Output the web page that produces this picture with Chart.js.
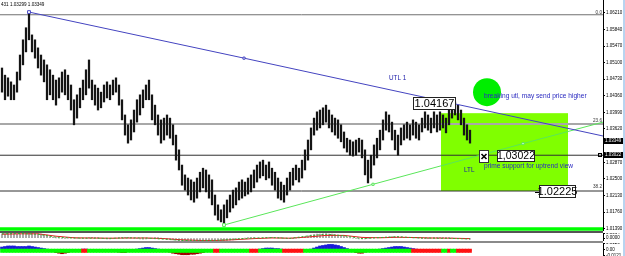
<!DOCTYPE html>
<html>
<head>
<meta charset="utf-8">
<script src="https://cdn.jsdelivr.net/npm/chart.js@4.4.1/dist/chart.umd.min.js"></script>
<style>
  body { margin: 0; background: #fff; width: 625px; height: 256px; overflow: hidden; position: relative; }
  canvas { position: absolute; left: 0; }
  .sep { position: absolute; left: 0; width: 603px; }
</style>
</head>
<body>
<canvas id="main" width="625" height="231" style="top:0"></canvas>
<div class="sep" style="top:231px;height:2px;background:#555"></div>
<canvas id="osma" width="625" height="8" style="top:233px"></canvas>
<div class="sep" style="top:241px;height:2px;background:#8a8a8a"></div>
<canvas id="trend" width="625" height="13" style="top:243px"></canvas>
<div style="position:absolute;left:623px;top:0;width:2px;height:256px;background:#b8d4f0"></div>
<script>
// price bars, one per slot (high / low)
const barHigh = [
  1.0498,1.0482,1.0476,1.0467,1.0460,1.0489,1.0527,1.0561,1.0588,1.0623,
  1.0572,1.0561,1.0543,1.0527,1.0516,1.0505,1.0494,1.0482,1.0471,1.0476,
  1.0489,1.0494,1.0482,1.0460,1.0427,1.0438,1.0453,1.0471,1.0494,1.0516,
  1.0471,1.0460,1.0453,1.0444,1.0460,1.0467,1.0460,1.0471,1.0476,1.0460,
  1.0427,1.0393,1.0371,1.0382,1.0404,1.0427,1.0438,1.0449,1.0460,1.0471,
  1.0438,1.0415,1.0393,1.0382,1.0386,1.0393,1.0386,1.0371,1.0348,1.0315,
  1.0281,1.0259,1.0252,1.0248,1.0243,1.0252,1.0265,1.0274,1.0270,1.0259,
  1.0248,1.0214,1.0192,1.0181,1.0192,1.0203,1.0214,1.0225,1.0230,1.0243,
  1.0248,1.0243,1.0252,1.0259,1.0270,1.0281,1.0288,1.0292,1.0281,1.0288,
  1.0274,1.0265,1.0252,1.0243,1.0236,1.0252,1.0265,1.0274,1.0281,1.0274,
  1.0292,1.0315,1.0337,1.0364,1.0386,1.0400,1.0404,1.0409,1.0415,1.0404,
  1.0393,1.0386,1.0382,1.0371,1.0355,1.0341,1.0337,1.0333,1.0337,1.0341,
  1.0337,1.0315,1.0292,1.0303,1.0326,1.0341,1.0359,1.0382,1.0400,1.0393,
  1.0377,1.0359,1.0348,1.0364,1.0371,1.0377,1.0371,1.0382,1.0377,1.0371,
  1.0386,1.0400,1.0393,1.0386,1.0400,1.0393,1.0400,1.0393,1.0386,1.0404,
  1.0420,1.0422,1.0415,1.0404,1.0386,1.0371,1.0359
];
const barLow = [
  1.0444,1.0427,1.0435,1.0427,1.0427,1.0444,1.0471,1.0505,1.0534,1.0561,
  1.0534,1.0520,1.0498,1.0482,1.0467,1.0427,1.0438,1.0427,1.0415,1.0431,
  1.0444,1.0438,1.0427,1.0404,1.0371,1.0386,1.0409,1.0427,1.0438,1.0453,
  1.0427,1.0415,1.0404,1.0409,1.0422,1.0431,1.0427,1.0438,1.0444,1.0415,
  1.0382,1.0348,1.0330,1.0337,1.0355,1.0377,1.0393,1.0409,1.0427,1.0427,
  1.0382,1.0371,1.0348,1.0330,1.0337,1.0348,1.0341,1.0326,1.0292,1.0270,
  1.0236,1.0225,1.0214,1.0203,1.0198,1.0207,1.0221,1.0230,1.0221,1.0207,
  1.0192,1.0169,1.0158,1.0154,1.0151,1.0163,1.0176,1.0185,1.0192,1.0203,
  1.0207,1.0212,1.0216,1.0221,1.0230,1.0243,1.0252,1.0257,1.0248,1.0252,
  1.0236,1.0225,1.0207,1.0203,1.0198,1.0214,1.0225,1.0236,1.0248,1.0243,
  1.0252,1.0270,1.0292,1.0315,1.0348,1.0359,1.0364,1.0371,1.0377,1.0364,
  1.0355,1.0348,1.0341,1.0333,1.0319,1.0310,1.0303,1.0301,1.0303,1.0310,
  1.0297,1.0259,1.0241,1.0252,1.0281,1.0297,1.0315,1.0337,1.0359,1.0355,
  1.0337,1.0315,1.0303,1.0326,1.0337,1.0341,1.0337,1.0348,1.0341,1.0337,
  1.0355,1.0364,1.0359,1.0353,1.0364,1.0355,1.0359,1.0364,1.0353,1.0371,
  1.0386,1.0393,1.0382,1.0371,1.0348,1.0337,1.0330
];

const priceTicks = [1.0621, 1.0584, 1.0547, 1.0510, 1.0473, 1.0436, 1.0399, 1.0362,
                    1.0287, 1.0250, 1.0213, 1.0176, 1.0139];
const bidPrice = 1.03349;

// horizontal levels: fib 0.0, fib 23.6, line, fib 38.2, support
const levelPrices = [1.0617, 1.0373, 1.0303, 1.0223, 1.0138];
const levelColors = ['#707070', '#a8a8a8', '#303030', '#303030', '#00ff00'];
const levelWidths = [1, 2, 1, 1, 3.5];

// trend lines (slot, price)
const utlSlots = [9, 80.67, 200.33];
const utlPrices = [1.0623, 1.0520, 1.0346];
const ltlSlots = [74, 123.67, 173.67, 200.33];
const ltlPrices = [1.0147, 1.0238, 1.0329, 1.0377];

const zoneBox = { from: 146.33, to: 188.67, top: 1.0397, bottom: 1.0223 };
const signalDot = { at: 161.67, price: 1.0444, r: 14 };

// osma window (points)
const osmaHist = [
  55,58,60,60,58,55,55,58,62,64,60,58,55,50,45,40,
  20,10,5,0,-5,-5,0,5,5,0,-5,-5,0,5,10,8,5,0,-5,-8,-10,-5,0,5,10,12,10,5,0,-5,-10,-12,-10,-5,0,5,5,0,-5,-10,-15,
  -20,-25,-30,-32,-35,-35,-33,-30,-30,-32,-35,-33,-30,-28,-25,-25,-28,-30,-28,-25,-20,-15,-10,-5,
  0,5,5,3,0,-3,0,5,8,10,8,5,3,0,-3,-5,-3,0,5,10,20,30,
  40,45,50,52,55,55,52,50,45,40,35,25,15,
  5,0,-5,-10,-10,-8,-5,0,5,8,10,12,
  15,18,20,20,18,15,12,10,8,5,
  3,0,-2,-3,-2,0,2,3,5,5,3,2,0,-2,-3,-5,-8,-10,-12
];
const lineSlots = [0,6,12,18,24,30,36,42,48,54,60,66,72,78,84,90,96,102,108,114,120,126,132,138,144,150,156];
const slowLine = [50,55,55,25,5,2,0,2,3,-5,-20,-28,-28,-18,-5,3,0,15,35,35,10,5,12,8,2,0,-5];
const fastLine = [55,58,50,12,2,0,-2,4,2,-12,-28,-32,-26,-10,2,8,-2,28,50,30,-5,8,18,5,0,-3,-10];

// trend window (0.001 units)
const trendHist = [
  5,6,7,7,7,6,6,6,6,7,6,5,4,3,2,1,
  -2,-4,-6,-7,-8,-7,-6,-3,-1,
  0,0,1,1,0,0,-1,-1,0,0,0,0,
  -1,-3,-5,-6,-6,-4,-2,0,
  1,2,3,4,4,3,2,1,0,
  -1,-3,-5,-7,-8,-9,-10,-10,-10,-9,-9,-8,-7,-6,-4,-3,-2,-1,
  0,0,0,0,0,0,0,0,0,0,0,0,0,0,
  1,2,3,3,3,2,2,1,
  0,0,-1,-1,0,0,0,0,0,1,
  3,5,7,8,9,10,10,9,8,6,4,2,
  -2,-4,-6,-7,-7,-5,-3,-1,
  0,0,1,2,
  3,4,5,6,6,6,5,4,3,2,
  1,0,0,-1,-1,-1,0,0,0,0,0,0,0,0,-1,-1,-1,-1,-1
];
const bandRuns = [[0,26,'up'],[27,28,'down'],[29,70,'up'],[71,72,'down'],[73,82,'up'],[83,85,'down'],
  [86,93,'up'],[94,100,'down'],[101,136,'up'],[137,146,'down'],[147,148,'up'],[149,149,'down'],
  [150,151,'up'],[152,156,'down']];

const xMin = -0.667, xMax = 200.333;
const FONT = '"Liberation Sans", Arial, sans-serif';

function axisOptions(min, max, ticks, fmt) {
  return {
    position: 'right', min: min, max: max,
    afterBuildTicks: s => { s.ticks = ticks.map(v => ({ value: v })); },
    afterFit: s => { s.width = 22; s.paddingTop = 0; s.paddingBottom = 0; },
    ticks: { autoSkip: false, padding: 1, color: '#000', font: { family: FONT, size: 4.5 }, callback: fmt },
    grid: { drawOnChartArea: false, tickLength: 2, color: '#000' },
    border: { color: '#000' }
  };
}

function baseOptions(yAxis) {
  return {
    responsive: false, animation: false, events: [],
    layout: { padding: 0, autoPadding: false },
    plugins: { legend: { display: false }, tooltip: { enabled: false } },
    scales: {
      x: { type: 'linear', min: xMin, max: xMax, offset: false, display: false, grid: { offset: false } },
      y: yAxis
    }
  };
}

function hline(p, i) {
  return { type: 'line', data: [{ x: xMin, y: p }, { x: xMax, y: p }], borderColor: levelColors[i],
           borderWidth: levelWidths[i], pointRadius: 0, order: 3 };
}

function boxLabel(ctx, text, x, y, w, h, size) {
  ctx.fillStyle = '#fff';
  ctx.fillRect(x, y, w, h);
  ctx.strokeStyle = '#222';
  ctx.lineWidth = 1;
  ctx.strokeRect(x + 0.5, y + 0.5, w - 1, h - 1);
  ctx.fillStyle = '#000';
  ctx.font = size + 'px ' + FONT;
  ctx.textAlign = 'center';
  ctx.textBaseline = 'middle';
  ctx.fillText(text, x + w / 2, y + h / 2 + 0.5);
}

const notes = [
  { text: '431 1.03299 1.03349', x: 1, y: 5, size: 4.6, color: '#000' },
  { text: 'UTL 1', x: 389, y: 78, size: 6.3, color: '#1a1aa8' },
  { text: 'breaking utl, may send price higher', x: 484, y: 96, size: 6.6, color: '#2a2ac0' },
  { text: 'LTL', x: 464, y: 170, size: 6.3, color: '#1a1aa8' },
  { text: 'prime support for uptrend view', x: 484, y: 166, size: 6.6, color: '#2a2ac0' }
];
const fibTags = [['0.0', 13], ['23.6', 121], ['38.2', 187]];

const drawings = {
  id: 'drawings',
  beforeDatasetsDraw(chart) {
    const { ctx, scales: { x, y } } = chart;
    ctx.save();
    const l = x.getPixelForValue(zoneBox.from), r = x.getPixelForValue(zoneBox.to);
    const t = y.getPixelForValue(zoneBox.top), b = y.getPixelForValue(zoneBox.bottom);
    ctx.fillStyle = '#80ff00';
    ctx.fillRect(l, t, r - l, b - t);
    ctx.fillStyle = '#00ee00';
    ctx.beginPath();
    ctx.arc(x.getPixelForValue(signalDot.at), y.getPixelForValue(signalDot.price), signalDot.r, 0, Math.PI * 2);
    ctx.fill();
    ctx.restore();
  },
  afterDraw(chart) {
    const { ctx, scales: { y } } = chart;
    ctx.save();
    ctx.textBaseline = 'middle';
    ctx.textAlign = 'left';
    notes.forEach(n => {
      ctx.fillStyle = n.color;
      ctx.font = n.size + 'px ' + FONT;
      ctx.fillText(n.text, n.x, n.y);
    });
    ctx.fillStyle = '#333';
    ctx.font = '4.6px ' + FONT;
    ctx.textAlign = 'right';
    fibTags.forEach(f => ctx.fillText(f[0], 602, f[1]));

    boxLabel(ctx, '1.04167', 413, 97, 43, 13, 11);
    boxLabel(ctx, '1,03022', 497, 150, 38, 12, 10.5);
    boxLabel(ctx, '1.02225', 539, 185, 37, 13, 11);
    ctx.strokeStyle = '#000';
    ctx.beginPath();
    ctx.moveTo(535, 192.5); ctx.lineTo(539, 192.5);
    ctx.stroke();
    // close icon
    ctx.fillStyle = '#fff';
    ctx.fillRect(479, 150, 10, 13);
    ctx.strokeStyle = '#333';
    ctx.strokeRect(479.5, 150.5, 9, 12);
    ctx.strokeStyle = '#000';
    ctx.lineWidth = 1.6;
    ctx.beginPath();
    ctx.moveTo(481.5, 154); ctx.lineTo(486.5, 159);
    ctx.moveTo(486.5, 154); ctx.lineTo(481.5, 159);
    ctx.stroke();

    // axis tags
    ctx.lineWidth = 1;
    ctx.textAlign = 'left';
    ctx.font = '4.5px ' + FONT;
    [[bidPrice, '1.03349'], [levelPrices[2], '1.03022']].forEach(([p, t]) => {
      const py = Math.round(y.getPixelForValue(p));
      ctx.fillStyle = '#000';
      ctx.fillRect(604, py - 3, 19, 6);
      ctx.fillStyle = '#fff';
      ctx.fillText(t, 605, py);
    });
    const ly = Math.round(y.getPixelForValue(levelPrices[2]));
    ctx.strokeStyle = '#000';
    ctx.strokeRect(598.5, ly - 1.5, 3, 3);
    ctx.restore();
  }
};

new Chart(document.getElementById('main'), {
  type: 'bar',
  data: {
    datasets: [
      { type: 'bar', data: barHigh.map((h, i) => ({ x: i, y: [barLow[i], h] })), backgroundColor: '#151515',
        barThickness: 1.6, grouped: false, order: 2 },
      ...levelPrices.map(hline),
      { type: 'line', data: utlSlots.map((s, i) => ({ x: s, y: utlPrices[i] })), borderColor: '#4444c0',
        borderWidth: 1, pointStyle: 'rect', pointRadius: [2, 1.5, 0], pointBackgroundColor: '#fff',
        pointBorderColor: '#4444c0', pointBorderWidth: 1, order: 1 },
      { type: 'line', data: ltlSlots.map((s, i) => ({ x: s, y: ltlPrices[i] })), borderColor: '#5ae65a',
        borderWidth: 1, pointStyle: 'rect', pointRadius: [2, 1.5, 1.5, 0], pointBackgroundColor: '#fff',
        pointBorderColor: '#5ae65a', pointBorderWidth: 1, order: 1 }
    ]
  },
  options: baseOptions(axisOptions(1.01336, 1.0650, priceTicks, v => v.toFixed(5))),
  plugins: [drawings]
});

new Chart(document.getElementById('osma'), {
  type: 'bar',
  data: {
    datasets: [
      { type: 'bar', data: osmaHist.map((v, i) => ({ x: i, y: v })), backgroundColor: '#9a9a9a',
        barThickness: 1, grouped: false, order: 3 },
      { type: 'line', data: lineSlots.map((s, i) => ({ x: s, y: slowLine[i] })), borderColor: '#e02020',
        borderWidth: 1, pointRadius: 0, order: 2 },
      { type: 'line', data: lineSlots.map((s, i) => ({ x: s, y: fastLine[i] })), borderColor: '#30b030',
        borderWidth: 1, borderDash: [2, 2], pointRadius: 0, order: 1 }
    ]
  },
  options: baseOptions(axisOptions(-35, 65, [64, 0], v => (v / 10000).toFixed(4)))
});

const bandColors = trendHist.map((_, i) => {
  const run = bandRuns.find(r => i >= r[0] && i <= r[1]);
  return run && run[2] === 'down' ? '#ff1010' : '#00ff00';
});

new Chart(document.getElementById('trend'), {
  type: 'bar',
  data: {
    datasets: [
      { type: 'bar', data: trendHist.map((v, i) => ({ x: i, y: [-5.5, 1.0] })), backgroundColor: bandColors,
        barThickness: 3, grouped: false, order: 1 },
      { type: 'bar', data: trendHist.map((v, i) => ({ x: i, y: v })),
        backgroundColor: trendHist.map(v => v >= 0 ? '#1a1ad8' : '#a00000'),
        barThickness: 3, grouped: false, order: 2 }
    ]
  },
  options: baseOptions(axisOptions(-12.4, 12.8, [12.6, 0, -12.1],
    v => v === 0 ? '0.00' : (v / 1000).toFixed(4)))
});
</script>
</body>
</html>
